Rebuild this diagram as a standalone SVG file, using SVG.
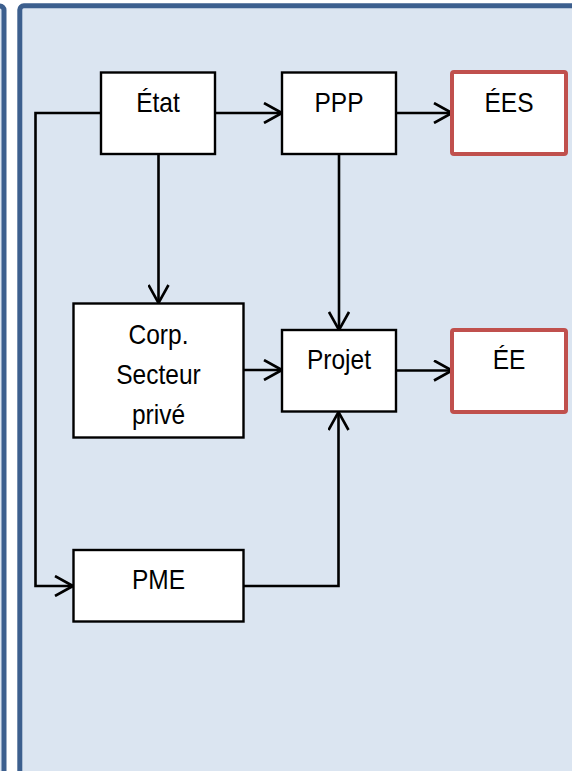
<svg xmlns="http://www.w3.org/2000/svg" width="572" height="771" viewBox="0 0 572 771">
<defs>
<style>
.frame{fill:#DBE5F1;stroke:#3C5F8E;stroke-width:5}
.box{fill:#FFFFFF;stroke:#000000;stroke-width:2.4}
.red{fill:#FFFFFF;stroke:#C0504D;stroke-width:4}
.lbl{font-family:"Liberation Sans",Arial,sans-serif;font-size:24.5px;fill:#000000;text-anchor:middle}
.con{fill:none;stroke:#000000;stroke-width:2.6;marker-end:url(#arr)}
</style>
<marker id="arr" viewBox="0 0 20 22" refX="19" refY="11" markerWidth="20" markerHeight="22" markerUnits="userSpaceOnUse" orient="auto">
<path d="M1,1 L19,11 L1,21" fill="none" stroke="#000000" stroke-width="2.6"/>
</marker>
</defs>
<rect x="0" y="0" width="572" height="771" fill="#FFFFFF"/>
<rect x="-200" y="6" width="204" height="900" rx="4" class="frame"/>
<rect x="19.8" y="5.8" width="700" height="900" rx="4" class="frame"/>
<g id="connectors">
<path class="con" d="M215,113 L282,113"/>
<path class="con" d="M396,113 L452,113"/>
<path class="con" d="M158.5,154 L158.5,303"/>
<path class="con" d="M339,154 L339,330"/>
<path class="con" d="M243,370 L282,370"/>
<path class="con" d="M396,370.5 L452,370.5"/>
<path class="con" d="M101,113 L35.5,113 L35.5,586 L73,586"/>
<path class="con" d="M243,586 L338.5,586 L338.5,412"/>
</g>
<g id="etat">
<rect class="box" x="101" y="72.5" width="114" height="81.5"/>
<text class="lbl" x="158" y="112" transform="matrix(1,0,0,1.14,0,-15.68)">État</text>
</g>
<g id="ppp">
<rect class="box" x="282" y="72.5" width="114" height="81.5"/>
<text class="lbl" x="339" y="112" transform="matrix(1,0,0,1.14,0,-15.68)">PPP</text>
</g>
<g id="ees">
<rect class="red" x="452" y="72" width="114" height="82" rx="2"/>
<text class="lbl" x="509" y="112" transform="matrix(1,0,0,1.14,0,-15.68)">ÉES</text>
</g>
<g id="corp">
<rect class="box" x="73.5" y="303.5" width="170" height="134"/>
<text class="lbl" x="158.5" y="344" transform="matrix(1,0,0,1.14,0,-48.16)">Corp.</text>
<text class="lbl" x="158.5" y="384" transform="matrix(1,0,0,1.14,0,-53.76)">Secteur</text>
<text class="lbl" x="158.5" y="424" transform="matrix(1,0,0,1.14,0,-59.36)">privé</text>
</g>
<g id="projet">
<rect class="box" x="282" y="330" width="114" height="81.5"/>
<text class="lbl" x="339" y="369.5" transform="matrix(1,0,0,1.14,0,-51.73)">Projet</text>
</g>
<g id="ee">
<rect class="red" x="452" y="330" width="114" height="82" rx="2"/>
<text class="lbl" x="509" y="369.5" transform="matrix(1,0,0,1.14,0,-51.73)">ÉE</text>
</g>
<g id="pme">
<rect class="box" x="73.5" y="550" width="170" height="71.5"/>
<text class="lbl" x="158.5" y="589.5" transform="matrix(1,0,0,1.14,0,-82.53)">PME</text>
</g>
</svg>
